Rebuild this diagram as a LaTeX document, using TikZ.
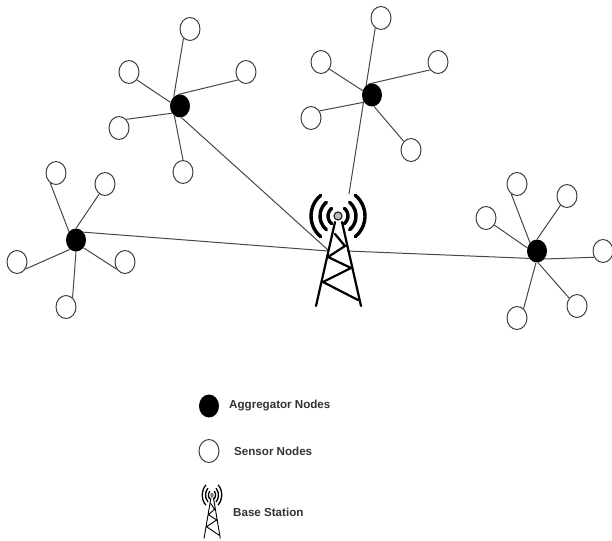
\documentclass[tikz,border=0pt]{standalone}
\usepackage{fontspec}
\setmainfont{Liberation Sans}
\usetikzlibrary{shapes.geometric,backgrounds}
\tikzset{
  sensor/.style={ellipse,draw=black!75,line width=1pt,fill=white,minimum width=20pt,minimum height=23pt,inner sep=0pt},
  aggregator/.style={ellipse,fill=black,minimum width=20pt,minimum height=23pt,inner sep=0pt},
  link/.style={draw=black!72,line width=1pt},
  legendtext/.style={font=\bfseries\fontsize{11.6pt}{13pt}\selectfont,text=black!80,anchor=west,inner sep=0pt},
  pics/tower/.style n args={3}{code={
    \foreach \r in {10,18,27}{
      \draw[line cap=round,line width=#1pt,black] (180-50:\r) arc[start angle=180-50,end angle=180+50,radius=\r];
      \draw[line cap=round,line width=#1pt,black] (-50:\r) arc[start angle=-50,end angle=50,radius=\r];
    }
    \draw[line cap=round,line width=#2pt,black]
      (-3,6) -- (-22,90)
      (4,6) -- (23,90)
      (-3,18) -- (7,30) -- (-10,41) -- (13,52) -- (-15,66) -- (20,84);
    \draw[line width=#3pt,black!85,fill=black!25] (0,0) circle[radius=4];
  }}
}
\begin{document}
\begin{tikzpicture}[x=1pt,y=-1pt]
\useasboundingbox (0,0) rectangle (612,540);
% aggregators
\node[aggregator] (A) at (180,106) {};
\node[aggregator] (B) at (372,95) {};
\node[aggregator] (C) at (76,240) {};
\node[aggregator] (D) at (537,251) {};
% sensors
\node[sensor] (a1) at (190,29) {};
\node[sensor] (a2) at (129,72) {};
\node[sensor] (a3) at (246,72) {};
\node[sensor] (a4) at (119,128) {};
\node[sensor] (a5) at (183,172) {};
\node[sensor] (b1) at (381,18) {};
\node[sensor] (b2) at (321,62) {};
\node[sensor] (b3) at (438,62) {};
\node[sensor] (b4) at (311,118) {};
\node[sensor] (b5) at (411,150) {};
\node[sensor] (c1) at (56,173) {};
\node[sensor] (c2) at (105,184) {};
\node[sensor] (c3) at (125,262) {};
\node[sensor] (c4) at (17,262) {};
\node[sensor] (c5) at (66,307) {};
\node[sensor] (d1) at (517,184) {};
\node[sensor] (d2) at (567,196) {};
\node[sensor] (d3) at (486,218) {};
\node[sensor] (d4) at (603,251) {};
\node[sensor] (d5) at (577,306) {};
\node[sensor] (d6) at (517,318) {};
% free ends near the tower
\coordinate (hubA) at (328,250);
\coordinate (hubC) at (328,251);
\coordinate (hubD) at (347,251);
\coordinate (hubB) at (349,194);
\begin{pgfonlayer}{background}
% sensor links
\draw[link] (A.124) -- (a1.235);
\draw[link] (A.159) -- (a2.315);
\draw[link] (A.100) -- (a3.225);
\draw[link] (A.222) -- (a4.50);
\draw[link] (A.240) -- (a5.90);
\draw[link] (B.155) -- (b2.320);
\draw[link] (B.108) -- (b3.225);
\draw[link] (B.222) -- (b4.40);
\draw[link] (B.280) -- (b5.130);
\draw[link] (C.130) -- (c1.240);
\draw[link] (C.90) -- (c2.240);
\draw[link] (C.314) -- (c3.220);
\draw[link] (C.237) -- (c4.320);
\draw[link] (C.270) -- (c5.55);
\draw[link] (D.130) -- (d1.240);
\draw[link] (D.90) -- (d2.235);
\draw[link] (D.162) -- (d3.320);
\draw[link] (D.313) -- (d4.215);
\draw[link] (D.275) -- (d5.135);
\draw[link] (D.265) -- (d6.55);
% backhaul links
\draw[link] (A.277) -- (hubA);
\draw[link] (b1.240) -- (hubB);
\draw[link] (C.46) -- (hubC);
\draw[link] (D.223) -- (hubD);
\end{pgfonlayer}
% tower
\pic at (338,216) {tower={3.4}{2.2}{1.2}};
% legend
\node[aggregator] (legA) at (209,406) {};
\node[sensor] (legS) at (209,451) {};
\pic[xscale=0.36,yscale=0.48] at (212,495) {tower={1.3}{0.9}{0.5}};
\node[legendtext] (txtA) at (229,406) {Aggregator Nodes};
\node[legendtext] (txtS) at (234,451) {Sensor Nodes};
\node[legendtext] (txtB) at (233,512) {Base Station};
\end{tikzpicture}
\end{document}
